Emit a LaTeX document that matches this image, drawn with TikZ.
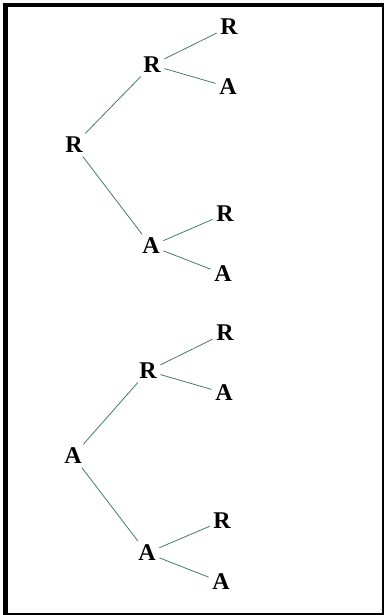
\documentclass[tikz,border=0pt]{standalone}
\usepackage{fontspec}
\setmainfont{Liberation Serif}
\definecolor{branch}{RGB}{60,118,98}
\tikzset{
  lbl/.style={font=\fontsize{24}{24}\selectfont\bfseries, inner sep=3.5pt, text=black},
  edge/.style={draw=branch, line width=0.75pt},
  frame/.style={fill=black, draw=none}
}
\begin{document}
\begin{tikzpicture}[x=1pt,y=-1pt]
\useasboundingbox (0,0) rectangle (384,615);
\fill[white] (0,0) rectangle (384,615);
% frame
\fill[frame] (3,3) rectangle (384,7.5);
\fill[frame] (3,3) rectangle (8.3,615);
\fill[frame] (3,612.5) rectangle (384,614.8);
\fill[frame] (382.3,3) rectangle (384,615);
% tree 1
\node[lbl] (t1) at (74,145) {R};
\node[lbl] (t1a) at (152,65) {R};
\node[lbl] (t1aa) at (229,27) {R};
\node[lbl] (t1ab) at (228,87) {A};
\node[lbl] (t1b) at (151,246) {A};
\node[lbl] (t1ba) at (225,214) {R};
\node[lbl] (t1bb) at (223,274) {A};
% tree 2
\node[lbl] (t2) at (73,456) {A};
\node[lbl] (t2a) at (148,371) {R};
\node[lbl] (t2aa) at (225,333) {R};
\node[lbl] (t2ab) at (224,393) {A};
\node[lbl] (t2b) at (147,553) {A};
\node[lbl] (t2ba) at (222,521) {R};
\node[lbl] (t2bb) at (221,582) {A};
% connectors
\draw[edge] (t1) -- (t1a);
\draw[edge] (t1a) -- (t1aa);
\draw[edge] (t1a) -- (t1ab);
\draw[edge] (t1) -- (t1b);
\draw[edge] (t1b) -- (t1ba);
\draw[edge] (t1b) -- (t1bb);
\draw[edge] (t2) -- (t2a);
\draw[edge] (t2a) -- (t2aa);
\draw[edge] (t2a) -- (t2ab);
\draw[edge] (t2) -- (t2b);
\draw[edge] (t2b) -- (t2ba);
\draw[edge] (t2b) -- (t2bb);
\end{tikzpicture}
\end{document}
